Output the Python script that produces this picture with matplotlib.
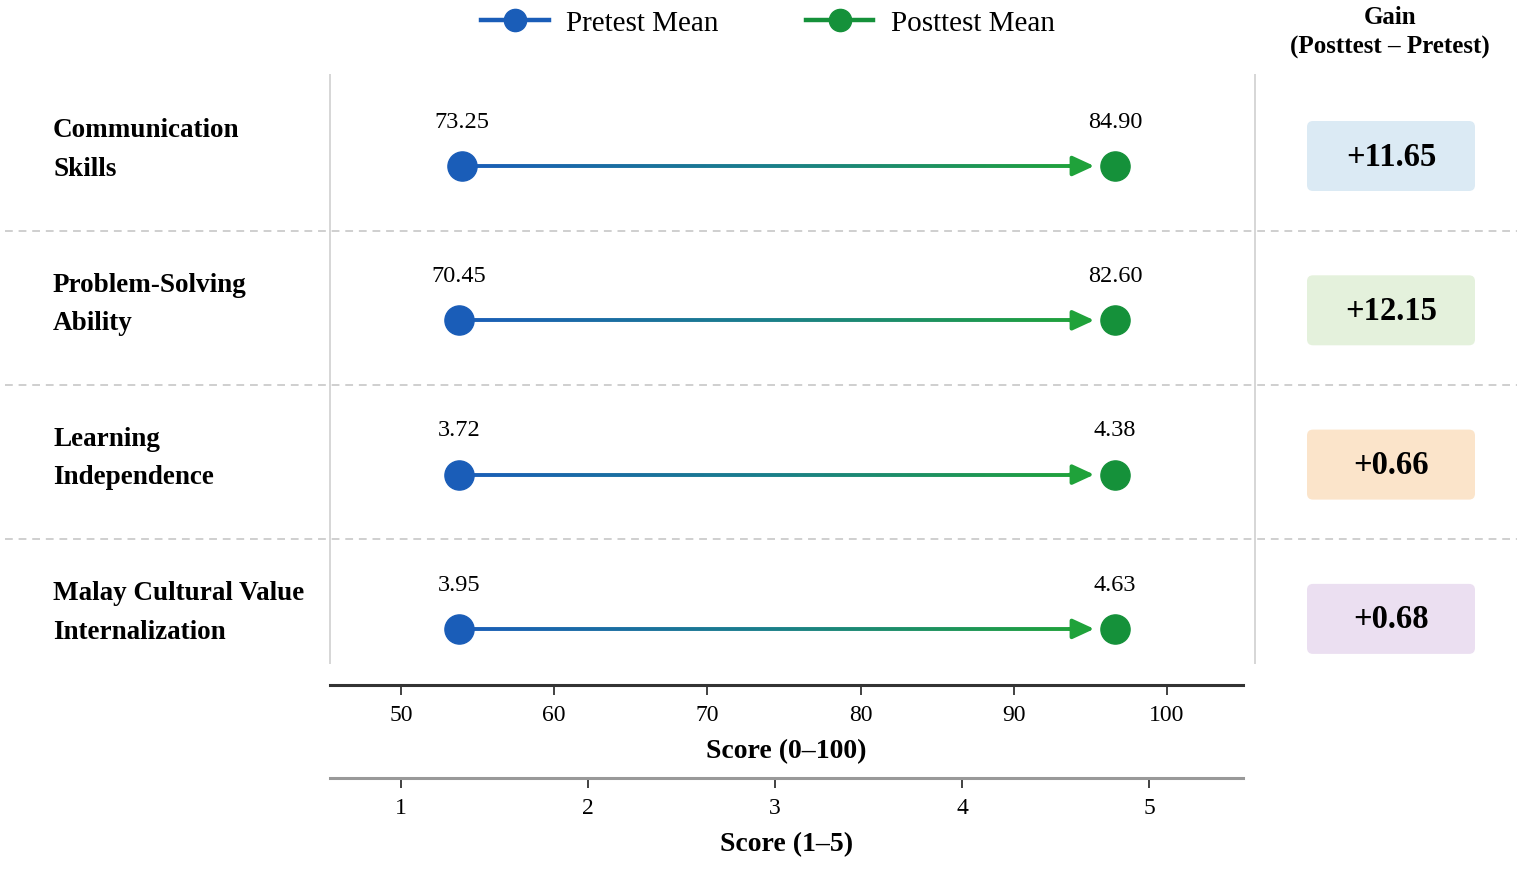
import numpy as np
import matplotlib.pyplot as plt
from matplotlib.collections import LineCollection
from matplotlib.colors import LinearSegmentedColormap
from matplotlib.lines import Line2D
from matplotlib.patches import FancyBboxPatch
from matplotlib.transforms import blended_transform_factory

plt.rcParams['font.family'] = ['Liberation Serif', 'DejaVu Serif']

# data
categories = ["Communication\nSkills", "Problem-Solving\nAbility",
              "Learning\nIndependence", "Malay Cultural Value\nInternalization"]
pretest_mean = [73.25, 70.45, 3.72, 3.95]
posttest_mean = [84.90, 82.60, 4.38, 4.63]
# where the dots sit on the drawn 0-100 axis (the chart does not place them at their values)
pretest_pos = [54.0, 53.8, 53.8, 53.8]
posttest_pos = [96.6, 96.6, 96.6, 96.6]
score100_ticks = [50, 60, 70, 80, 90, 100]
score5_ticks = [1, 2, 3, 4, 5]
gain_colors = ["#dbeaf4", "#e4f1dc", "#fbe4ca", "#ebdff1"]

blue = "#1a5db8"
green = "#15913a"
W, H = 1535, 870

fig = plt.figure(figsize=(W / 100, H / 100), dpi=100)

def px_axes(x0, y0, x1, y1):
    # pixel box (top-left origin) -> figure fraction axes
    return fig.add_axes([x0 / W, 1 - y1 / H, (x1 - x0) / W, (y1 - y0) / H])

# main panel covers the full width so labels, boxes and separators share the rows
ax = px_axes(0, 75, W, 665)
ppu = (1167 - 401) / 50.0
ax.set_xlim(50 - 401 / ppu, 100 + (W - 1167) / ppu)
row0, row_gap = 167, 154.3
ax.set_ylim((665 - row0) / row_gap, (75 - row0) / row_gap)
ax.axis("off")

mixed = blended_transform_factory(ax.transAxes, ax.transData)
ax.axvline(50 - 71 / ppu, color="#d0d0d0", lw=1.2)
ax.axvline(50 + (1255 - 401) / ppu, color="#d0d0d0", lw=1.2)

cmap = LinearSegmentedColormap.from_list("bg", [blue, "#1a7f8a", "#1fa23a"])
rows = np.arange(len(categories))

for i in rows:
    x0, x1 = pretest_pos[i], posttest_pos[i]
    tip = x1 - 1.35
    xs = np.linspace(x0, tip - 1.0, 120)
    segs = [[(xs[k], i), (xs[k + 1], i)] for k in range(len(xs) - 1)]
    lc = LineCollection(segs, cmap=cmap, linewidths=2.8, zorder=2)
    lc.set_array(np.linspace(0, 1, len(segs)))
    ax.add_collection(lc)
    ax.annotate("", xy=(tip, i), xytext=(tip - 1.6, i),
                arrowprops=dict(arrowstyle="-|>,head_length=1.3,head_width=0.6",
                                color="#1fa23a", lw=2.8, shrinkA=0, shrinkB=0),
                zorder=3)
    ax.plot(x0, i, "o", ms=21, color=blue, zorder=4)
    ax.plot(x1, i, "o", ms=21, color=green, zorder=4)
    fmt = "{:.2f}"
    ax.text(x0, i - 0.29, fmt.format(pretest_mean[i]), ha="center", va="center",
            fontsize=17.5)
    ax.text(x1, i - 0.29, fmt.format(posttest_mean[i]), ha="center", va="center",
            fontsize=17.5)
    ax.text(53 / W, i - 0.11, categories[i], transform=mixed, ha="left",
            va="center", fontsize=19.5, fontweight="bold", linespacing=1.7)

    gain = posttest_mean[i] - pretest_mean[i]
    yc = 870 - (row0 + i * row_gap) + 10
    box = FancyBboxPatch((1307 / 100, (yc - 35) / 100), 1.68, 0.70,
                         boxstyle="round,pad=0,rounding_size=0.06",
                         transform=fig.dpi_scale_trans, facecolor=gain_colors[i],
                         edgecolor="none")
    fig.add_artist(box)
    fig.text(1391 / W, yc / H, f"+{gain:.2f}", ha="center", va="center",
             fontsize=23.5, fontweight="bold")

for i in rows[:-1]:
    ax.plot([0.003, 0.988], [i + 0.42, i + 0.42], transform=mixed,
            color="#cfcfcf", lw=1.4, ls=(0, (4, 3)), zorder=1)

# legend
handles = [Line2D([], [], color=blue, lw=3.2, marker="o", ms=16),
           Line2D([], [], color=green, lw=3.2, marker="o", ms=16)]
fig.legend(handles, ["Pretest Mean", "Posttest Mean"], loc="center",
           bbox_to_anchor=(768 / W, 1 - 24 / H), ncol=2, frameon=False,
           fontsize=21, handlelength=2.3, columnspacing=3.0, handletextpad=0.6)

fig.text(1390 / W, 1 - 17 / H, "Gain", ha="center", va="center",
         fontsize=18, fontweight="bold")
fig.text(1390 / W, 1 - 47 / H, "(Posttest \u2013 Pretest)", ha="center",
         va="center", fontsize=18, fontweight="bold")

# bottom scales
def scale_axis(y, ticks, lo_val, lo_px, per_px, label, color, lw):
    a = px_axes(330, y - 1, 1243, y)
    a.set_xlim(lo_val - (lo_px - 330) / per_px, lo_val + (1243 - lo_px) / per_px)
    a.set_yticks([])
    for s in ["top", "left", "right"]:
        a.spines[s].set_visible(False)
    a.spines["bottom"].set_color(color)
    a.spines["bottom"].set_linewidth(lw)
    a.set_xticks(ticks)
    a.tick_params(axis="x", length=7, width=1.3, color="#333333", pad=7,
                  labelsize=17)
    a.set_xlabel(label, fontsize=20, fontweight="bold", labelpad=9)
    a.patch.set_alpha(0)
    return a

scale_axis(686, score100_ticks, 50, 401, ppu, "Score (0\u2013100)",
           "#333333", 2.2)
scale_axis(779, score5_ticks, 1, 401, (1149 - 401) / 4.0,
           "Score (1\u20135)", "#999999", 2.2)

fig.savefig("out.png", dpi=100)
